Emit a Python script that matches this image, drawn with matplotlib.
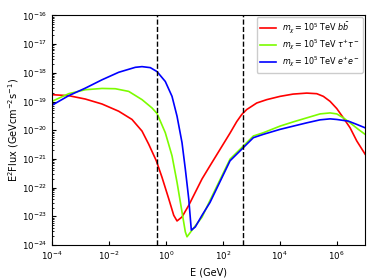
import numpy as np
import matplotlib
matplotlib.use('Agg')
import matplotlib.pyplot as plt

# log10(E / GeV) and log10(E^2 Flux)
logE_bb = [-4.000, -3.413, -2.830, -2.243, -1.656, -1.188, -0.837, -0.601, -0.334, -0.134, 0.102, 0.278,
           0.394, 0.569, 0.805, 1.272, 1.553, 1.905, 2.257, 2.492, 2.668, 2.843, 3.195, 3.547, 4.014,
           4.471, 4.953, 5.304, 5.536, 5.771, 6.007, 6.239, 6.475, 6.710, 7.002]
logF_bb = [-18.762, -18.797, -18.914, -19.087, -19.339, -19.626, -20.030, -20.489, -21.066, -21.642,
           -22.388, -22.965, -23.162, -23.023, -22.619, -21.698, -21.238, -20.669, -20.100, -19.700,
           -19.453, -19.280, -19.052, -18.935, -18.821, -18.742, -18.707, -18.728, -18.821, -18.994,
           -19.246, -19.570, -19.916, -20.375, -20.834]

logE_tt = [-4.000, -3.413, -2.830, -2.243, -1.775, -1.304, -0.837, -0.485, -0.309, -0.018, 0.218, 0.394,
           0.569, 0.685, 0.745, 0.921, 1.272, 1.553, 2.257, 2.668, 2.843, 3.076, 3.427, 4.014, 4.482,
           4.953, 5.420, 5.771, 6.007, 6.239, 6.475, 6.766, 7.002]
logF_tt = [-18.994, -18.728, -18.590, -18.545, -18.555, -18.648, -18.935, -19.225, -19.418, -20.088,
           -20.893, -21.815, -22.851, -23.541, -23.714, -23.483, -23.030, -22.447, -21.007, -20.606,
           -20.434, -20.202, -20.088, -19.857, -19.709, -19.570, -19.432, -19.398, -19.432, -19.570,
           -19.743, -19.971, -20.144]

logE_ee = [-4.000, -3.413, -2.830, -2.243, -1.656, -1.072, -0.837, -0.545, -0.309, -0.018, 0.218, 0.394,
           0.569, 0.685, 0.805, 0.896, 1.037, 1.272, 1.553, 2.257, 2.668, 2.843, 3.076, 3.427, 4.014,
           4.482, 4.953, 5.420, 5.771, 6.007, 6.415, 6.710, 7.002]
logF_ee = [-19.132, -18.797, -18.535, -18.244, -17.982, -17.809, -17.785, -17.820, -17.958, -18.303,
           -18.821, -19.512, -20.434, -21.352, -22.388, -23.483, -23.369, -22.965, -22.517, -21.066,
           -20.662, -20.489, -20.261, -20.144, -19.971, -19.857, -19.743, -19.639, -19.605, -19.626,
           -19.684, -19.798, -19.916]

E_cuts = [0.5, 500.0]

fig = plt.figure(figsize=(3.74, 2.8), dpi=100)
ax = fig.add_axes([0.139, 0.125, 0.837, 0.82])

ax.plot(10**np.array(logE_bb), 10**np.array(logF_bb), color='red', lw=1.2,
        label=r'$m_\chi = 10^5$ TeV $b\bar{b}$')
ax.plot(10**np.array(logE_tt), 10**np.array(logF_tt), color='#7cfc00', lw=1.2,
        label=r'$m_\chi = 10^5$ TeV $\tau^{+}\tau^{-}$')
ax.plot(10**np.array(logE_ee), 10**np.array(logF_ee), color='blue', lw=1.2,
        label=r'$m_\chi = 10^5$ TeV $e^{+}e^{-}$')

for e in E_cuts:
    ax.axvline(e, color='black', ls='--', lw=1.0)

ax.set_xscale('log')
ax.set_yscale('log')
ax.set_xlim(1e-4, 1e7)
ax.set_ylim(1e-24, 1e-16)
ax.tick_params(which='both', direction='in', labelsize=6.2)
ax.tick_params(which='major', length=3)
ax.tick_params(which='minor', length=1.5)
ax.set_xlabel('E (GeV)', fontsize=7)
ax.set_ylabel(r'E$^2$Flux (GeVcm$^{-2}$s$^{-1}$)', fontsize=7)
ax.yaxis.set_label_coords(-0.10, 0.5)
ax.legend(loc='upper right', fontsize=5.8, framealpha=1, handlelength=2.0,
          labelspacing=0.3, borderaxespad=0.25)

fig.savefig('out.png', dpi=100)
